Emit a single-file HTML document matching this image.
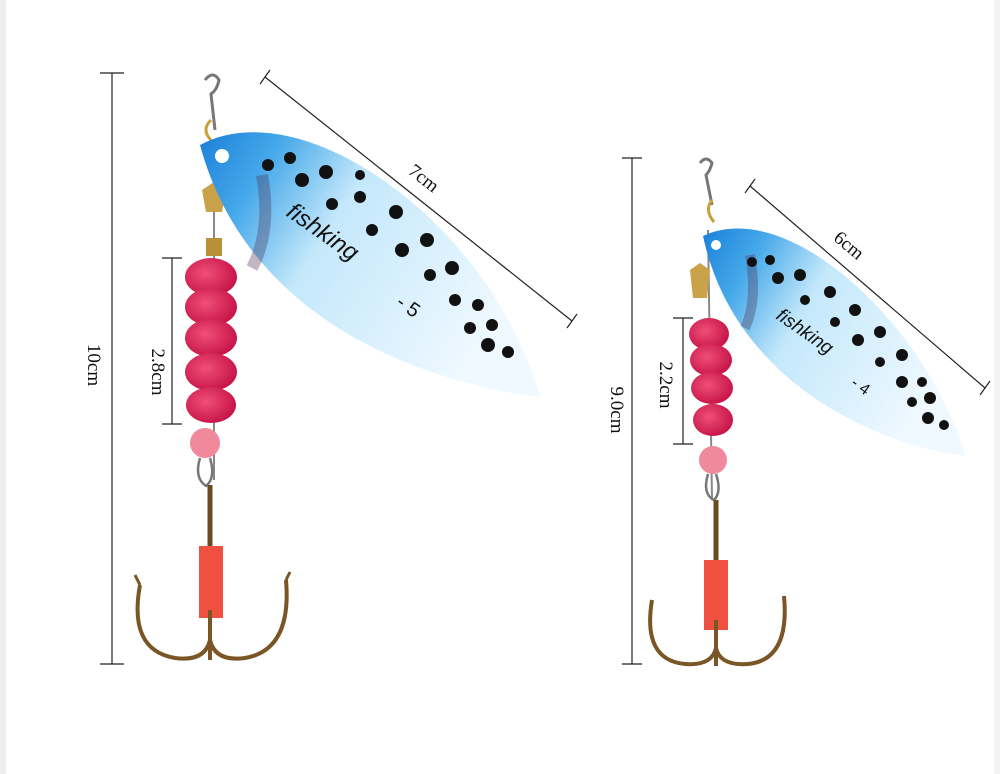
<!DOCTYPE html>
<html><head><meta charset="utf-8"><style>
body{margin:0;background:#fff;}
svg{display:block;}
text{font-family:"Liberation Serif",serif;fill:#111;}
</style></head><body>
<svg width="1000" height="774" viewBox="0 0 1000 774" xmlns="http://www.w3.org/2000/svg">
<defs>
<linearGradient id="bl" x1="0" y1="0" x2="1" y2="0.5">
<stop offset="0" stop-color="#1a80d8"/><stop offset="0.2" stop-color="#45a8ea"/><stop offset="0.45" stop-color="#c4e8fb"/><stop offset="1" stop-color="#f0f9ff"/>
</linearGradient>
<radialGradient id="bead" cx="0.4" cy="0.4" r="0.6"><stop offset="0" stop-color="#f04f78"/><stop offset="1" stop-color="#c8164a"/></radialGradient>
</defs>
<rect x="0" y="0" width="1000" height="774" fill="#fff"/>
<rect x="0" y="0" width="6" height="774" fill="#eeeeee"/>
<rect x="994" y="0" width="6" height="774" fill="#f3f3f3"/>
<g stroke="#222" stroke-width="1.2" fill="none">
<line x1="112" y1="73" x2="112" y2="664"/><line x1="100" y1="73" x2="124" y2="73"/><line x1="100" y1="664" x2="124" y2="664"/>
<line x1="172" y1="258" x2="172" y2="424"/><line x1="162" y1="258" x2="182" y2="258"/><line x1="162" y1="424" x2="182" y2="424"/>
<line x1="265" y1="77" x2="572" y2="321"/><line x1="260" y1="84" x2="270" y2="70"/><line x1="567" y1="328" x2="577" y2="314"/>
<line x1="632" y1="158" x2="632" y2="664"/><line x1="622" y1="158" x2="642" y2="158"/><line x1="622" y1="664" x2="642" y2="664"/>
<line x1="683" y1="318" x2="683" y2="444"/><line x1="673" y1="318" x2="693" y2="318"/><line x1="673" y1="444" x2="693" y2="444"/>
<line x1="750" y1="186" x2="985" y2="388"/><line x1="745" y1="193" x2="755" y2="179"/><line x1="980" y1="395" x2="990" y2="381"/>
</g>
<text font-size="19" transform="translate(88,365) rotate(90)" text-anchor="middle">10cm</text>
<text font-size="19" transform="translate(152,372) rotate(90)" text-anchor="middle">2.8cm</text>
<text font-size="19" transform="translate(420,183) rotate(38)" text-anchor="middle">7cm</text>
<text font-size="19" transform="translate(611,410) rotate(90)" text-anchor="middle">9.0cm</text>
<text font-size="19" transform="translate(660,385) rotate(90)" text-anchor="middle">2.2cm</text>
<text font-size="19" transform="translate(845,250) rotate(40)" text-anchor="middle">6cm</text>

<!-- left lure -->
<g>
<path d="M205 80 q8 -10 14 0 q-2 10 -8 14 L215 130" stroke="#777" stroke-width="3" fill="none"/>
<path d="M211 120 q-10 10 0 20" stroke="#c9a040" stroke-width="3" fill="none"/>
<line x1="214" y1="140" x2="214" y2="480" stroke="#888" stroke-width="2"/>
<path d="M202 190 l12 -8 l12 8 l-4 22 l-16 0z" fill="#c9a24a"/>
<rect x="206" y="238" width="16" height="18" fill="#b8903a"/>
<g fill="url(#bead)">
<ellipse cx="211" cy="277" rx="26" ry="19"/><ellipse cx="211" cy="307" rx="26" ry="19"/><ellipse cx="211" cy="338" rx="26" ry="19"/><ellipse cx="211" cy="372" rx="26" ry="19"/><ellipse cx="211" cy="405" rx="25" ry="18"/>
</g>
<circle cx="205" cy="443" r="15" fill="#f1899c"/>
<path d="M200 458 q-6 20 6 28 q10 -8 4 -28" stroke="#777" stroke-width="2.5" fill="none"/>
<path d="M210 485 L210 550" stroke="#6b4a20" stroke-width="5"/>
<rect x="199" y="546" width="24" height="72" fill="#f05040"/>
<path d="M210 610 L210 660 M140 585 Q128 650 175 658 Q205 662 210 640 Q215 662 245 658 Q292 650 286 580" stroke="#7a5526" stroke-width="4" fill="none"/>
<path d="M140 585 l-5 -10 M286 580 l4 -8" stroke="#7a5526" stroke-width="3"/>
<path d="M200 145 C300 90 490 220 540 397 C440 385 250 330 200 145z" fill="url(#bl)"/>
<path d="M262 175 Q272 230 252 268" stroke="#4a3050" stroke-width="12" fill="none" opacity="0.35"/>
<circle cx="222" cy="156" r="7" fill="#fff"/>
<g fill="#111"><circle cx="268" cy="165" r="6"/><circle cx="290" cy="158" r="6"/><circle cx="302" cy="180" r="7"/><circle cx="326" cy="172" r="7"/><circle cx="332" cy="204" r="6"/><circle cx="360" cy="197" r="6"/><circle cx="372" cy="230" r="6"/><circle cx="396" cy="212" r="7"/><circle cx="402" cy="250" r="7"/><circle cx="427" cy="240" r="7"/><circle cx="430" cy="275" r="6"/><circle cx="452" cy="268" r="7"/><circle cx="455" cy="300" r="6"/><circle cx="478" cy="305" r="6"/><circle cx="470" cy="328" r="6"/><circle cx="492" cy="325" r="6"/><circle cx="488" cy="345" r="7"/><circle cx="508" cy="352" r="6"/><circle cx="360" cy="175" r="5"/></g>
<text font-size="24" font-style="italic" transform="translate(285,215) rotate(35)" style="font-family:'Liberation Sans',sans-serif">fishking</text>
<text font-size="20" transform="translate(395,305) rotate(35)" style="font-family:'Liberation Sans',sans-serif">- 5</text>
</g>

<!-- right lure -->
<g>
<path d="M700 163 q6 -8 12 0 q-2 8 -6 12 L712 205" stroke="#777" stroke-width="3" fill="none"/>
<path d="M712 200 q-8 10 2 22" stroke="#c9a040" stroke-width="3" fill="none"/>
<line x1="708" y1="230" x2="712" y2="500" stroke="#888" stroke-width="2"/>
<path d="M690 270 l10 -7 l10 7 l-3 28 l-14 0z" fill="#c9a24a"/>
<g fill="url(#bead)">
<ellipse cx="709" cy="334" rx="20" ry="16"/><ellipse cx="711" cy="360" rx="21" ry="16"/><ellipse cx="712" cy="388" rx="21" ry="16"/><ellipse cx="713" cy="420" rx="20" ry="16"/>
</g>
<circle cx="713" cy="460" r="14" fill="#f1899c"/>
<path d="M708 474 q-6 20 6 26 q8 -8 2 -26" stroke="#777" stroke-width="2.5" fill="none"/>
<path d="M716 500 L716 565" stroke="#6b4a20" stroke-width="5"/>
<rect x="704" y="560" width="24" height="70" fill="#f05040"/>
<path d="M716 620 L716 666 M652 600 Q642 660 685 664 Q712 666 716 648 Q720 666 748 664 Q790 660 784 596" stroke="#7a5526" stroke-width="4" fill="none"/>
<path d="M703 236 C790 195 930 330 965 456 C880 445 735 385 703 236z" fill="url(#bl)"/>
<path d="M750 255 Q758 300 745 328" stroke="#4a3050" stroke-width="10" fill="none" opacity="0.35"/>
<circle cx="716" cy="245" r="5" fill="#fff"/>
<g fill="#111"><circle cx="752" cy="262" r="5"/><circle cx="770" cy="260" r="5"/><circle cx="778" cy="278" r="6"/><circle cx="800" cy="275" r="6"/><circle cx="805" cy="300" r="5"/><circle cx="830" cy="292" r="6"/><circle cx="835" cy="322" r="5"/><circle cx="855" cy="310" r="6"/><circle cx="858" cy="340" r="6"/><circle cx="880" cy="332" r="6"/><circle cx="880" cy="362" r="5"/><circle cx="902" cy="355" r="6"/><circle cx="902" cy="382" r="6"/><circle cx="922" cy="382" r="5"/><circle cx="912" cy="402" r="5"/><circle cx="930" cy="398" r="6"/><circle cx="928" cy="418" r="6"/><circle cx="944" cy="425" r="5"/></g>
<text font-size="19" font-style="italic" transform="translate(775,318) rotate(35)" style="font-family:'Liberation Sans',sans-serif">fishking</text>
<text font-size="16" transform="translate(850,385) rotate(35)" style="font-family:'Liberation Sans',sans-serif">- 4</text>
</g>
</svg>
</body></html>
